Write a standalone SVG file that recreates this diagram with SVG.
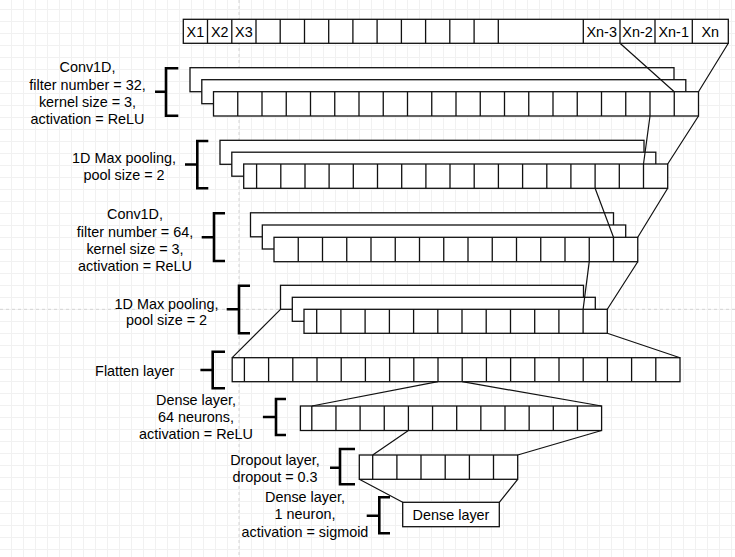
<svg xmlns="http://www.w3.org/2000/svg" width="735" height="557" viewBox="0 0 735 557">
<style>
.c{fill:#fff;stroke:#111;stroke-width:1.3}
.d{fill:none;stroke:#111;stroke-width:1.3}
.br{fill:none;stroke:#000;stroke-width:2.6}
.ln{fill:none;stroke:#111;stroke-width:1.2}
.pb{fill:none;stroke:#d4d4d4;stroke-width:1;stroke-dasharray:3 3}
text{font-family:"Liberation Sans",Arial,sans-serif;font-size:14.4px;fill:#000;text-anchor:middle}
</style>
<defs>
<pattern id="grid" x="11" y="9" width="12" height="12" patternUnits="userSpaceOnUse">
<path d="M0 0.5H12M0.5 0V12" fill="none" stroke="#f1f1f1" stroke-width="1"/>
</pattern>
</defs>
<rect width="735" height="557" fill="#fff"/>
<rect width="735" height="557" fill="url(#grid)"/>
<path class="pb" d="M239 0V557M0 309.3H735"/>
<g id="input">
<rect class="c" x="183.3" y="19.3" width="545" height="24"/>
<path class="d" d="M207.5 19.3V43.3M231.8 19.3V43.3M256 19.3V43.3M280.2 19.3V43.3M304.5 19.3V43.3M328.7 19.3V43.3M352.9 19.3V43.3M377.1 19.3V43.3M401.4 19.3V43.3M425.6 19.3V43.3M449.8 19.3V43.3M474.1 19.3V43.3M498.3 19.3V43.3M583.3 19.3V43.3M620 19.3V43.3M655 19.3V43.3M692.3 19.3V43.3"/>
<text x="195.4" y="36.5">X1</text><text x="219.7" y="36.5">X2</text><text x="243.9" y="36.5">X3</text>
<text x="601.7" y="36.5">Xn-3</text><text x="637.5" y="36.5">Xn-2</text><text x="673.7" y="36.5">Xn-1</text><text x="710.3" y="36.5">Xn</text>
</g>
<g id="conv1">
<rect class="c" x="190" y="67.7" width="484" height="24"/>
<rect class="c" x="201.8" y="79.7" width="484" height="24"/>
<rect class="c" x="213.5" y="91.7" width="485" height="24.3"/>
<path class="d" d="M237.75 91.7V116M262 91.7V116M286.25 91.7V116M310.5 91.7V116M334.75 91.7V116M359 91.7V116M383.25 91.7V116M407.5 91.7V116M431.75 91.7V116M456 91.7V116M480.25 91.7V116M504.5 91.7V116M528.75 91.7V116M553 91.7V116M577.25 91.7V116M601.5 91.7V116M625.75 91.7V116M650 91.7V116M674.25 91.7V116"/>
<path class="br" d="M178.3 68.3H166V115.7H178.3M155 91.7H166"/>
<text x="87.5" y="72.3">Conv1D,</text><text x="87.5" y="89.6">filter number = 32,</text><text x="87.5" y="106.9">kernel size = 3,</text><text x="87.5" y="124.2">activation = ReLU</text>
</g>
<g id="pool1">
<rect class="c" x="220" y="140.3" width="424" height="24"/>
<rect class="c" x="231.8" y="152.2" width="424" height="24"/>
<rect class="c" x="243.7" y="164" width="424" height="24.3"/>
<path class="d" d="M256.6 164V188.3M280.8 164V188.3M305 164V188.3M329.1 164V188.3M353.3 164V188.3M377.5 164V188.3M401.7 164V188.3M425.9 164V188.3M450 164V188.3M474.2 164V188.3M498.4 164V188.3M522.6 164V188.3M546.8 164V188.3M570.9 164V188.3M595.1 164V188.3M619.3 164V188.3M643.5 164V188.3"/>
<path class="br" d="M208.3 141H197.3V188.3H208.3M185 164.5H197.3"/>
<text x="124" y="163.3">1D Max pooling,</text><text x="124" y="179.5">pool size = 2</text>
</g>
<g id="conv2">
<rect class="c" x="250.5" y="212.8" width="363" height="24"/>
<rect class="c" x="262.3" y="225" width="363.4" height="24"/>
<rect class="c" x="274" y="237.3" width="363.75" height="24.4"/>
<path class="d" d="M298.25 237.3V261.7M322.5 237.3V261.7M346.75 237.3V261.7M371 237.3V261.7M395.25 237.3V261.7M419.5 237.3V261.7M443.75 237.3V261.7M468 237.3V261.7M492.25 237.3V261.7M516.5 237.3V261.7M540.75 237.3V261.7M565 237.3V261.7M589.25 237.3V261.7M613.5 237.3V261.7"/>
<path class="br" d="M225 213.3H214V261H225M201.7 237.3H214"/>
<text x="135" y="219.2">Conv1D,</text><text x="135" y="236.5">filter number = 64,</text><text x="135" y="253.8">kernel size = 3,</text><text x="135" y="271.1">activation = ReLU</text>
</g>
<g id="pool2">
<rect class="c" x="280.5" y="285.3" width="303" height="24"/>
<rect class="c" x="292.3" y="297.3" width="303" height="24"/>
<rect class="c" x="304" y="309.3" width="303.3" height="24"/>
<path class="d" d="M316.7 309.3V333.3M340.9 309.3V333.3M365.1 309.3V333.3M389.4 309.3V333.3M413.6 309.3V333.3M437.8 309.3V333.3M462 309.3V333.3M486.2 309.3V333.3M510.5 309.3V333.3M534.7 309.3V333.3M558.9 309.3V333.3M583.1 309.3V333.3"/>
<path class="br" d="M250 285.7H239V333.3H250M226.7 309.3H239"/>
<text x="166.5" y="309.2">1D Max pooling,</text><text x="166.5" y="324.9">pool size = 2</text>
</g>
<g id="flatten">
<rect class="c" x="232.2" y="357.7" width="447.8" height="24"/>
<path class="d" d="M244.4 357.7V381.7M268.6 357.7V381.7M292.8 357.7V381.7M317 357.7V381.7M341.2 357.7V381.7M365.4 357.7V381.7M389.6 357.7V381.7M413.8 357.7V381.7M438 357.7V381.7M462.2 357.7V381.7M486.4 357.7V381.7M510.6 357.7V381.7M534.8 357.7V381.7M559 357.7V381.7M583.2 357.7V381.7M607.4 357.7V381.7M631.6 357.7V381.7M655.8 357.7V381.7"/>
<path class="br" d="M225 351.7H212.7V388.3H225M200.4 370H212.7"/>
<text x="134.7" y="376.2">Flatten layer</text>
</g>
<g id="dense64">
<rect class="c" x="300.4" y="406" width="301.2" height="24.5"/>
<path class="d" d="M311.8 406V430.5M335.95 406V430.5M360.1 406V430.5M384.25 406V430.5M408.4 406V430.5M432.55 406V430.5M456.7 406V430.5M480.85 406V430.5M505 406V430.5M529.15 406V430.5M553.3 406V430.5M577.45 406V430.5"/>
<path class="br" d="M286 399H276V435H286M262.9 417H276"/>
<text x="196" y="405.2">Dense layer,</text><text x="196" y="421.9">64 neurons,</text><text x="196" y="439.2">activation = ReLU</text>
</g>
<g id="dropout">
<rect class="c" x="359.3" y="455" width="158.4" height="24.3"/>
<path class="d" d="M372.7 455V479.3M396.9 455V479.3M421 455V479.3M445.2 455V479.3M469.4 455V479.3M493.5 455V479.3"/>
<path class="br" d="M355 449H340V484.3H355M330 467.7H340"/>
<text x="275" y="465.2">Dropout layer,</text><text x="275" y="481.9">dropout = 0.3</text>
</g>
<g id="dense1">
<rect class="c" x="402.7" y="502.3" width="96.6" height="24.4"/>
<text x="451" y="519.8">Dense layer</text>
<path class="br" d="M390 497.3H379.3V533.3H390M366.7 515.7H379.3"/>
<text x="305" y="501.9">Dense layer,</text><text x="305" y="519.4">1 neuron,</text><text x="305" y="536.9">activation = sigmoid</text>
</g>
<g id="connectors">
<path class="ln" d="M620 43.3L674.25 91.7M728.3 43.3L698.5 91.7M650 116L643.5 164M698.5 116L667.7 164M595.1 188.3L613.5 237.3M667.7 188.3L637.75 237.3M589.25 261.7L583.1 309.3M637.75 261.7L607.3 309.3M280.5 309.3L232.2 357.7M607.3 333.3L680 357.7M438 381.7L311.8 406M462.2 381.7L601.6 406M408.4 430.5L372.7 455M601.6 430.5L517.7 455M359.3 479.3L402.7 502.3M517.7 479.3L499.3 502.3"/>
</g>
</svg>
